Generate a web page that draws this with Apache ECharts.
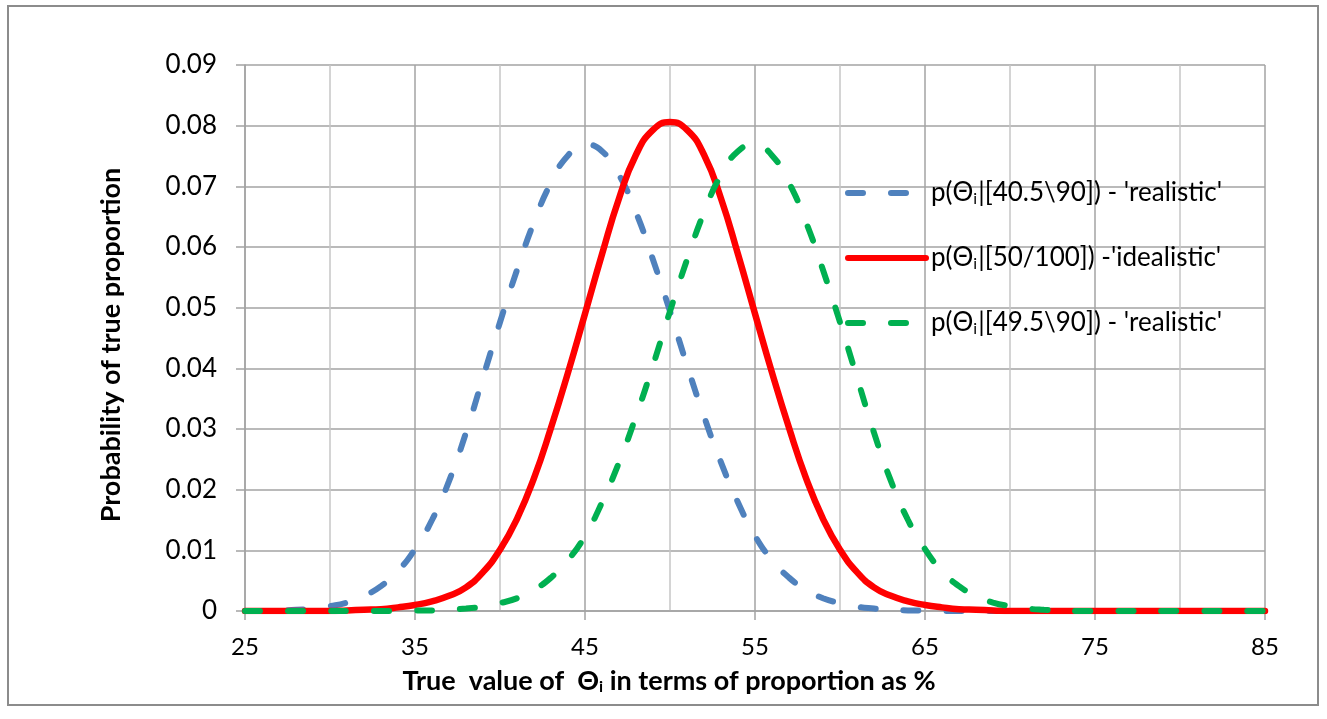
<!DOCTYPE html>
<html>
<head>
<meta charset="utf-8">
<script src="https://cdn.jsdelivr.net/npm/echarts@6/dist/echarts.min.js"></script>
<style>
html,body{margin:0;padding:0;background:#fff;}
#chart{width:1327px;height:719px;}
</style>
</head>
<body>
<div id="chart"></div>
<script>
// x positions (true value of theta, %)
const xs = [25,26,27,28,29,30,31,32,33,34,35,36,37,38,39,40,41,42,43,44,45,46,47,48,49,50,51,52,53,54,55,56,57,58,59,60,61,62,63,64,65,66,67,68,69,70,71,72,73,74,75,76,77,78,79,80,81,82,83,84,85];

const seriesNames = [
  "p(Θi|[40.5\\90]) - 'realistic'",
  "p(Θi|[50/100]) -'idealistic'",
  "p(Θi|[49.5\\90]) - 'realistic'"
];

const blueVals = [0,0,0.0001,0.0002,0.0004,0.0008,0.0014,0.0025,0.0041,0.0066,
  0.0102,0.0150,0.0214,0.0294,0.0385,0.0476,0.0562,0.0641,0.0706,0.0751,
  0.0769,0.0758,0.0719,0.0657,0.0579,0.0494,0.0405,0.0321,0.0245,0.0179,
  0.0124,0.0084,0.0055,0.0035,0.0021,0.0013,0.0007,0.0004,0.0002,0.0001,
  0.0001,0,0,0,0,0,0,0,0,0,
  0,0,0,0,0,0,0,0,0,0,0];

const redVals = [0,0,0,0,0,0,0.0001,0.0002,0.0003,0.0006,
  0.0010,0.0016,0.0025,0.0039,0.0064,0.0101,0.0152,0.0219,0.0302,0.0393,
  0.0490,0.0588,0.0680,0.0752,0.0793,0.0806,0.0793,0.0752,0.0680,0.0588,
  0.0490,0.0393,0.0302,0.0219,0.0152,0.0101,0.0064,0.0039,0.0025,0.0016,
  0.0010,0.0006,0.0003,0.0002,0.0001,0,0,0,0,0,
  0,0,0,0,0,0,0,0,0,0,0];

const greenVals = [0,0,0,0,0,0,0,0,0,0,
  0.0001,0.0001,0.0002,0.0004,0.0007,0.0013,0.0021,0.0035,0.0055,0.0084,
  0.0124,0.0179,0.0245,0.0321,0.0405,0.0494,0.0579,0.0657,0.0719,0.0758,
  0.0769,0.0751,0.0706,0.0641,0.0562,0.0476,0.0385,0.0294,0.0214,0.0150,
  0.0102,0.0066,0.0041,0.0025,0.0014,0.0008,0.0004,0.0002,0.0001,0,
  0,0,0,0,0,0,0,0,0,0,0];

const colors = ['#4f81bd', '#ff0000', '#00b050'];
const FONT = 'Lato, "Open Sans", sans-serif';
const gridColor = '#a3a3a3';
const minorGridColor = '#c6c6c6';

function pairs(vals){ return xs.map((x,i)=>[x, vals[i]]); }

const chart = echarts.init(document.getElementById('chart'), null, {renderer:'canvas'});

const option = {
  animation: false,
  backgroundColor: '#ffffff',
  grid: {left: 245, right: 62, top: 65, bottom: 108, containLabel: false},
  xAxis: {
    type: 'value', min: 25, max: 85, interval: 10,
    axisLine: {show: true, lineStyle: {color: gridColor, width: 1.5}},
    axisTick: {show: true, length: 9, lineStyle: {color: gridColor, width: 1.5}},
    axisLabel: {fontSize: 24, color: '#000', fontFamily: FONT, margin: 24},
    splitLine: {show: true, lineStyle: {color: gridColor, width: 1.5}},
    minorTick: {show: false, splitNumber: 2},
    minorSplitLine: {show: true, lineStyle: {color: minorGridColor, width: 1.5}}
  },
  yAxis: {
    type: 'value', min: 0, max: 0.09, interval: 0.01,
    axisLine: {show: true, lineStyle: {color: gridColor, width: 1.5}},
    axisTick: {show: true, length: 9, lineStyle: {color: gridColor, width: 1.5}},
    axisLabel: {fontSize: 26, color: '#000', fontFamily: FONT, margin: 28,
      formatter: v => v === 0 ? '0' : v.toFixed(2)},
    splitLine: {show: true, lineStyle: {color: gridColor, width: 1.5}}
  },
  legend: {
    orient: 'vertical', left: 840, top: 173,
    itemWidth: 78, itemHeight: 30, itemGap: 35,
    lineStyle: {width: 6},
    itemStyle: {opacity: 0},
    data: seriesNames,
    formatter: name => name.replace('Θi', 'Θ{s|i}'),
    textStyle: {
      fontSize: 26, color: '#000', fontFamily: FONT, lineHeight: 30,
      rich: {s: {fontSize: 16, fontFamily: FONT, color: '#000', padding: [11, 1, 0, 0]}}
    }
  },
  graphic: [
    {type: 'rect', silent: true, shape: {x: 8, y: 6, width: 1310, height: 699},
     style: {fill: 'none', stroke: '#8c8c8c', lineWidth: 2}},
    {type: 'text', x: 669, y: 681, silent: true,
     style: {text: 'True  value of  Θ{s|i} in terms of proportion as %', fontSize: 27, fontWeight: 'bold',
       fontFamily: FONT, fill: '#000', align: 'center', verticalAlign: 'middle',
       rich: {s: {fontSize: 16, fontWeight: 'bold', fontFamily: FONT, fill: '#000', padding: [11, 0, 0, 0]}}}},
    {type: 'text', x: 111, y: 345, rotation: Math.PI / 2, silent: true,
     style: {text: 'Probability of true proportion', fontSize: 27, fontWeight: 'bold',
       fontFamily: FONT, fill: '#000', align: 'center', verticalAlign: 'middle'}}
  ],
  series: [
    {name: seriesNames[0], type: 'line', data: pairs(blueVals), smooth: true, symbol: 'none', z: 2,
     lineStyle: {color: colors[0], width: 6, type: [15, 28], cap: 'round'}, itemStyle: {color: colors[0]}},
    {name: seriesNames[1], type: 'line', data: pairs(redVals), smooth: true, symbol: 'none', z: 3,
     lineStyle: {color: colors[1], width: 6.5, type: 'solid', cap: 'round'}, itemStyle: {color: colors[1]}},
    {name: seriesNames[2], type: 'line', data: pairs(greenVals), smooth: true, symbol: 'none', z: 4,
     lineStyle: {color: colors[2], width: 6, type: [15, 28], cap: 'round'}, itemStyle: {color: colors[2]}}
  ]
};
chart.setOption(option);
</script>
</body>
</html>
